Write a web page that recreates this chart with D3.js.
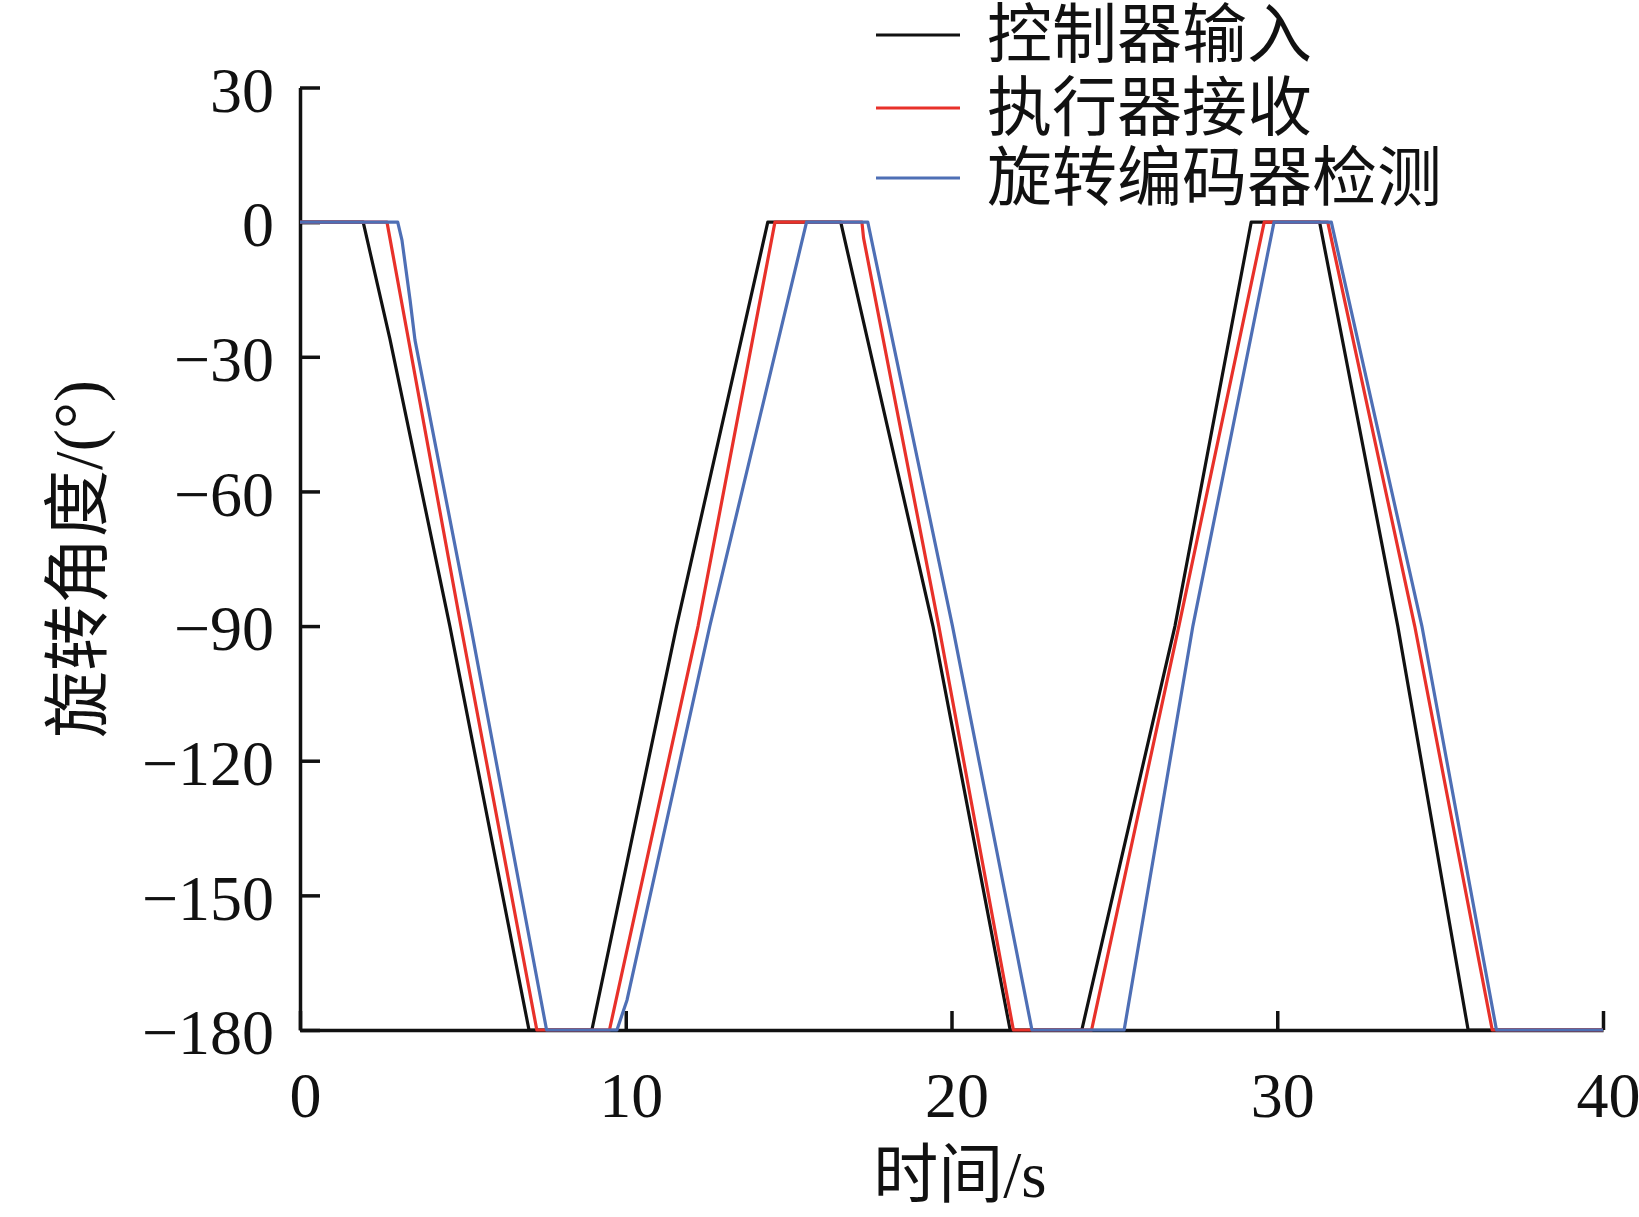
<!DOCTYPE html>
<html>
<head>
<meta charset="utf-8">
<script src="https://cdn.jsdelivr.net/npm/d3@7"></script>
<style>
  html, body { margin: 0; padding: 0; background: #fff; }
  svg { display: block; }
  text { font-family: "Liberation Serif", "Noto Sans CJK SC", serif; fill: #111; }
</style>
</head>
<body>
<svg id="chart" width="1639" height="1217"></svg>
<script>
// ---------- data (time in s, angle in degrees) ----------
const seriesNames = ["控制器输入", "执行器接收", "旋转编码器检测"];

const ctrlTime  = [0, 1.94, 2.76, 4.60, 7.03, 8.96, 11.56, 14.36, 16.6, 19.43, 21.8, 24.0, 26.86, 29.2, 31.3, 33.70, 35.86, 40];
const ctrlAngle = [0, 0, -26, -90, -180, -180, -90, 0, 0, -90, -180, -180, -90, 0, 0, -90, -180, -180];

const actTime  = [0, 2.67, 4.94, 7.27, 9.5, 12.22, 14.58, 17.25, 17.3, 19.61, 21.9, 24.3, 26.98, 29.6, 31.55, 34.22, 36.6, 40];
const actAngle = [0, 0, -90, -180, -180, -90, 0, 0, -3.5, -90, -180, -180, -90, 0, 0, -90, -180, -180];

const encTime  = [0, 3.0, 3.13, 3.38, 3.53, 5.24, 7.57, 9.73, 10.04, 12.58, 15.55, 17.43, 20.03, 22.47, 25.3, 27.41, 29.9, 31.66, 34.44, 36.73, 40];
const encAngle = [0, 0, -4, -17.4, -26.3, -90, -180, -180, -173.3, -90, 0, 0, -90, -180, -180, -90, 0, 0, -90, -180, -180];

const seriesColors = ["#111111", "#e8312a", "#4e6fb5"];

const xTicks = [0, 10, 20, 30, 40];
const yTicks = [30, 0, -30, -60, -90, -120, -150, -180];
const xTitle = "时间/s";
const yTitle = "旋转角度/(°)";

// ---------- chart ----------
const svg = d3.select("#chart");
const x = d3.scaleLinear().domain([0, 40]).range([300, 1603]);
const y = d3.scaleLinear().domain([-180, 30]).range([1030, 87.5]);

const series = [
  { name: seriesNames[0], color: seriesColors[0], pts: ctrlTime.map((t, i) => [t, ctrlAngle[i]]) },
  { name: seriesNames[1], color: seriesColors[1], pts: actTime.map((t, i) => [t, actAngle[i]]) },
  { name: seriesNames[2], color: seriesColors[2], pts: encTime.map((t, i) => [t, encAngle[i]]) }
];

// axes
const xAxis = d3.axisBottom(x).tickValues(xTicks).tickSize(-19).tickSizeOuter(0).tickPadding(42)
  .tickFormat(d3.format("d"));
const yAxis = d3.axisLeft(y).tickValues(yTicks).tickSize(-20).tickSizeOuter(0).tickPadding(26)
  .tickFormat(d3.format("d"));

const gx = svg.append("g").attr("transform", "translate(0,1030)").call(xAxis);
const gy = svg.append("g").attr("transform", "translate(300,0)").call(yAxis);

[gx, gy].forEach(g => {
  g.select(".domain").attr("stroke", "#111").attr("stroke-width", 3.5);
  g.selectAll(".tick line").attr("stroke", "#111").attr("stroke-width", 3.5);
  g.selectAll(".tick text").attr("font-size", 64).attr("fill", "#111")
    .attr("font-family", "'Liberation Serif', serif");
});
gx.selectAll(".tick text").attr("dx", 5);
gy.selectAll(".tick text").attr("dy", "0.37em");

// lines
const line = d3.line().x(d => x(d[0])).y(d => y(d[1]));
svg.append("g").selectAll("path").data(series).join("path")
  .attr("d", d => line(d.pts))
  .attr("fill", "none")
  .attr("stroke", d => d.color)
  .attr("stroke-width", 3.2)
  .attr("stroke-linejoin", "round");

// legend
const legendY = [35, 108, 178];
const lg = svg.append("g");
series.forEach((s, i) => {
  lg.append("line").attr("x1", 876).attr("x2", 960)
    .attr("y1", legendY[i]).attr("y2", legendY[i])
    .attr("stroke", s.color).attr("stroke-width", 3);
  lg.append("text").attr("x", 987).attr("y", legendY[i])
    .attr("dominant-baseline", "central")
    .attr("font-size", 65).text(s.name);
});

// axis titles
svg.append("text").attr("x", 960).attr("y", 1197)
  .attr("text-anchor", "middle").attr("font-size", 65).text(xTitle);
svg.append("text").attr("transform", "translate(78,559) rotate(-90)")
  .attr("text-anchor", "middle").attr("dominant-baseline", "central")
  .attr("font-size", 67).text(yTitle);
</script>
</body>
</html>
